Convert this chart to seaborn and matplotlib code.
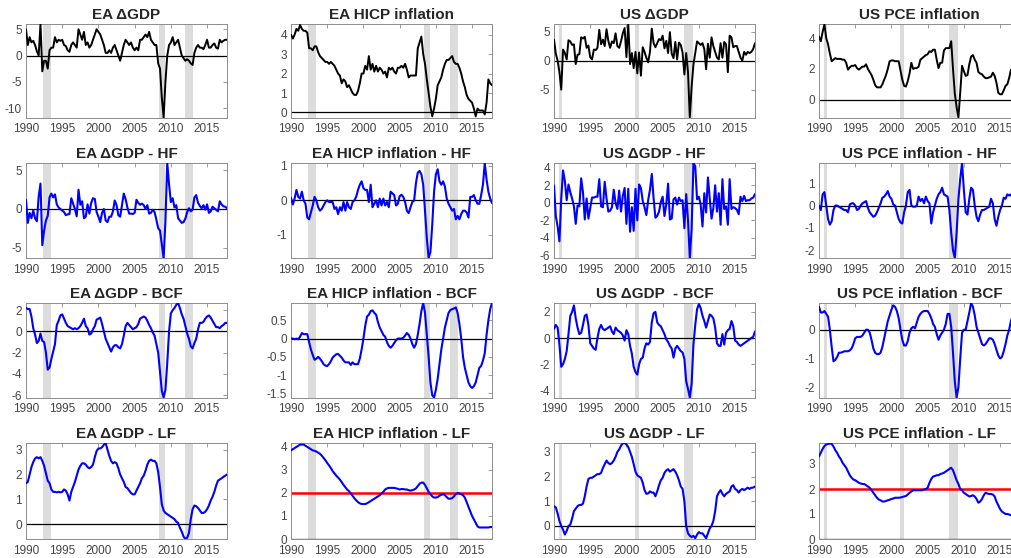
import numpy as np
import seaborn as sns
import matplotlib.pyplot as plt

sns.set_style('white')
plt.rcParams['font.family'] = ['Liberation Sans', 'DejaVu Sans']
plt.rcParams['axes.unicode_minus'] = False

# quarterly dates 1990Q1 .. 2017Q4
quarters = 1990 + np.arange(112) / 4

# recession bands (start, end)
ea_recessions = [(1992.4, 1993.5), (2008.4, 2009.25), (2011.9, 2013.0)]
us_recessions = [(1990.7, 1991.1), (2001.25, 2001.7), (2008.0, 2009.2)]

# ---- raw series (black) ----
ea_gdp = [5.0, 2.0, 3.5, 2.5, 2.8, 2.0, 0.8, 0.0, 6.0, -3.0, -1.0, -1.0,
          -2.5, 1.0, 1.5, 1.5, 3.5, 2.5, 3.0, 2.8, 3.0, 2.0, 1.8, 1.0,
          0.7, 2.0, 2.5, 2.0, 1.5, 5.0, 4.0, 3.0, 4.5, 2.0, 2.5, 1.5,
          2.0, 3.0, 4.0, 5.0, 4.5, 4.0, 3.0, 2.0, 0.5, 0.5, 1.0, 0.5,
          1.5, 2.0, 1.0, 0.0, -1.0, 0.5, 2.0, 3.0, 2.5, 2.0, 2.5, 1.5,
          1.0, 1.5, 1.0, 3.0, 3.0, 3.5, 4.0, 3.5, 4.5, 3.0, 2.5, 2.0,
          2.0, -1.5, -2.5, -8.0, -11.8, -5.0, 0.0, 2.0, 2.5, 3.5, 2.0, 2.5,
          3.0, 1.5, 0.0, -0.5, -1.0, -0.7, -1.0, -1.5, -1.8, 0.5, 1.5, 2.0,
          1.5, 1.5, 1.2, 2.0, 3.0, 1.5, 1.5, 2.0, 2.3, 1.5, 1.3, 3.0,
          2.5, 2.8, 3.0, 3.0]
ea_hicp = [4.0, 3.8, 4.0, 4.3, 4.2, 4.5, 4.3, 4.2, 4.2, 4.1, 3.3, 3.3,
           3.2, 3.4, 3.4, 3.1, 2.9, 2.8, 2.7, 2.6, 2.6, 2.5, 2.6, 2.5,
           2.4, 2.2, 2.0, 1.9, 1.5, 1.7, 1.6, 1.3, 1.4, 1.2, 1.0, 0.9,
           0.9, 1.1, 1.5, 2.0, 2.0, 2.4, 2.2, 2.9, 2.2, 2.5, 2.1, 2.4,
           2.1, 2.3, 2.2, 2.0, 2.1, 1.8, 2.3, 2.2, 2.3, 2.1, 2.0, 2.3,
           2.3, 2.4, 2.3, 2.5, 2.2, 1.8, 1.9, 1.9, 1.9, 1.9, 3.3, 3.6,
           3.9, 3.0, 2.5, 1.7, 1.0, 0.3, -0.2, 0.2, 0.7, 1.4, 1.6, 1.8,
           2.2, 2.5, 2.7, 2.7, 2.8, 2.9, 2.6, 2.5, 2.5, 2.3, 2.0, 1.6,
           1.3, 0.9, 0.7, 0.6, 0.5, 0.2, -0.2, 0.2, 0.1, 0.1, 0.1, -0.1,
           0.5, 1.7, 1.5, 1.4]
us_gdp = [3.6, 1.2, 0.0, -2.0, -5.0, 1.9, 1.3, 0.2, 3.5, 3.3, 2.7, 2.8,
          -0.6, 1.0, 1.1, 4.0, 3.8, 4.1, 2.2, 2.6, 0.6, 0.2, 1.9, 1.8,
          2.2, 5.3, 2.8, 3.6, 2.5, 5.4, 3.4, 2.2, 3.3, 3.0, 4.7, 2.5,
          2.2, 3.3, 4.7, 5.6, 0.6, 6.3, -0.6, 1.3, -1.3, 1.5, -2.2, 1.4,
          -2.6, 2.3, 1.5, 0.5, -0.3, 1.5, 5.5, 3.0, 2.3, 3.0, 3.7, 3.5,
          4.3, 2.1, 3.4, 1.3, 4.9, 1.2, 0.4, 3.2, 0.2, 3.1, 2.7, 1.4,
          -2.4, 1.3, -2.0, -9.8, -4.5, -0.7, 1.3, 3.3, 3.0, 2.7, 3.0, 2.0,
          -1.5, 2.9, 0.5, 4.0, 2.5, 1.5, 0.5, 0.2, 3.0, 0.5, 3.2, 2.8,
          -2.0, 4.3, 4.0, 2.3, 2.5, 2.5, 1.5, 0.5, 0.0, 1.5, 1.0, 1.5,
          1.3, 1.5, 2.0, 3.0]
us_pce = [4.1, 3.8, 4.4, 4.9, 4.0, 3.6, 3.0, 2.5, 2.6, 2.7, 2.65, 2.65,
          2.65, 2.6, 2.6, 2.4, 1.95, 2.1, 2.2, 2.2, 2.25, 2.05, 1.95, 2.05,
          2.15, 2.15, 2.3, 2.0, 1.8, 1.6, 1.3, 0.95, 0.8, 0.8, 0.8, 1.0,
          1.3, 1.6, 2.0, 2.5, 2.55, 2.55, 2.5, 2.5, 2.5, 1.9, 1.3, 0.9,
          0.85, 1.2, 1.7, 2.4, 2.0, 2.05, 2.05, 2.15, 2.6, 2.7, 2.8, 2.9,
          2.95, 3.15, 3.1, 3.25, 3.25, 2.6, 2.05, 2.4, 2.4, 3.2, 3.35, 3.35,
          3.35, 3.8, 2.0, 0.4, -0.5, -1.16, 0.5, 2.2, 1.85, 1.55, 1.6, 2.3,
          2.8, 2.9, 2.6, 2.4, 1.8, 1.7, 1.65, 1.5, 1.4, 1.4, 1.45, 1.5,
          1.75, 1.55, 1.1, 0.45, 0.35, 0.35, 0.6, 0.9, 1.0, 1.4, 1.95, 1.9,
          2.0, 1.6, 1.5, 1.7]

# ---- high frequency ----
ea_gdp_hf = [1.2, -1.8, -0.5, -1.2, -0.2, -1.2, -1.6, 1.6, 3.3, -4.7, -2.8, -1.5,
             -0.9, 1.5, 2.0, 1.5, 1.9, 0.6, 0.2, 0.0, -0.2, -0.4, -0.8, -0.7,
             -0.65, 1.4, 0.7, 0.0, -0.95, 2.5, 0.55, 1.0, -1.2, -1.0, 0.6, -0.6,
             0.8, 1.4, 1.3, -0.4, -1.0, -1.7, -0.5, 0.0, -1.5, -1.7, -1.0, -1.0,
             -0.3, 1.1, 0.5, -0.8, -1.0, 0.5, 2.0, 1.3, 0.2, -0.6, -0.6, -0.65,
             -0.5, 1.2, 0.8, 0.55, 0.7, 0.5, 0.0, 0.5, -0.6, -0.5, -0.1, -0.4,
             -1.4, -2.5, -2.8, -4.6, -6.36, -1.6, 5.97, 3.2, 0.9, 1.4, 0.2, 0.5,
             -1.2, -1.5, -1.8, -1.7, -1.25, -0.4, 0.1, -0.3, -0.1, 1.5, 1.8, 0.8,
             0.4, 0.1, 0.5, -0.1, 0.6, -0.5, -0.3, 0.3, 0.1, -0.1, -0.3, 1.0,
             0.6, 0.35, 0.3, 0.1]
ea_hicp_hf = [0.07, -0.12, 0.05, 0.3, 0.1, 0.05, 0.25, 0.0, -0.1, -0.5, -0.55, -0.35,
              -0.15, 0.1, 0.0, -0.2, -0.3, -0.25, -0.15, -0.05, 0.0, -0.05, -0.05, -0.05,
              -0.25, -0.2, -0.4, -0.2, -0.3, -0.05, -0.3, -0.05, -0.2, -0.25, -0.05, 0.0,
              0.1, 0.3, 0.45, 0.55, 0.35, 0.3, 0.3, -0.05, 0.45, -0.2, -0.1, 0.0,
              -0.2, 0.05, -0.15, 0.05, -0.15, -0.05, -0.2, 0.25, 0.2, 0.15, -0.15, -0.1,
              0.12, 0.16, 0.1, -0.05, -0.3, -0.37, -0.2, -0.05, 0.0, 0.5, 0.8, 0.85,
              0.75, 0.45, -0.3, -1.1, -1.67, -1.5, -0.7, 0.25, 0.75, 0.9, 0.55, 0.45,
              0.55, 0.4, 0.05, -0.1, -0.2, -0.3, -0.25, -0.55, -0.45, -0.55, -0.4, -0.3,
              -0.3, -0.35, -0.5, 0.1, 0.1, 0.15, 0.0, -0.1, -0.1, 0.15, 0.45, 1.08,
              0.6, 0.25, 0.05, -0.08]
us_gdp_hf = [2.0, -1.5, -2.7, -4.4, 0.5, 3.7, 2.5, 0.3, 2.1, 1.2, 0.5, -0.4,
             -2.4, -0.3, -0.4, 2.8, 1.2, -1.9, 0.5, -1.8, -0.6, 0.6, 0.6, 0.7,
             0.7, 2.7, -0.4, -0.5, 2.4, 0.5, -1.0, -0.9, -0.5, 1.5, 0.0, -0.7,
             1.4, -1.0, 0.8, 1.7, -2.4, 1.6, -3.3, -0.5, -3.2, 1.6, -2.0, 2.1,
             1.7, 0.2, -0.5, -1.4, 0.3, 1.5, 3.3, 0.5, -1.7, -1.5, -1.0, 0.1,
             0.7, -1.5, -0.2, 2.2, -1.9, -1.8, 0.4, 0.6, -0.2, 0.6, 0.2, 0.3,
             -2.9, 1.0, -2.0, -6.3, -3.0, 4.5, 4.2, 0.4, 0.7, -0.2, -2.7, 1.1,
             -1.1, 2.9, 0.5, -1.8, -0.6, 2.0, -1.0, 1.1, -2.5, 2.7, -0.7, -0.4,
             -2.5, 2.7, -0.7, -0.5, -0.6, -0.8, -1.3, 0.7, 0.2, 0.8, 0.2, 0.3,
             0.3, 0.5, 0.6, 1.0]
us_pce_hf = [0.0, -0.2, 0.5, 0.6, 0.0, -0.6, -0.85, -0.7, -0.2, 0.0, 0.0, -0.05,
             -0.1, -0.15, -0.2, -0.2, -0.3, 0.05, 0.1, 0.1, 0.0, -0.2, -0.15, 0.0,
             0.1, 0.15, 0.2, -0.1, -0.3, -0.4, -0.5, -0.45, -0.3, -0.1, 0.1, 0.35,
             0.4, 0.5, 0.65, 0.4, 0.3, 0.05, 0.0, -0.3, -0.6, -0.75, -0.8, -0.3,
             0.0, 0.6, 0.7, 0.0, -0.05, -0.05, 0.0, 0.4, 0.2, 0.3, 0.1, 0.4,
             0.2, 0.1, -0.8, -0.3, 0.0, 0.3, 0.5, 0.6, 0.8, 0.5, 0.45, 0.4,
             -0.2, -1.2, -2.0, -2.34, -1.2, 0.3, 1.2, 1.9, 0.7, -0.3, -0.4, 0.3,
             0.8, 0.7, 0.0, -0.5, -0.7, -0.4, -0.2, -0.2, -0.15, -0.1, -0.05, 0.3,
             0.1, -0.6, -0.9, -0.5, -0.2, 0.0, 0.35, 0.3, 0.5, 0.45, 0.5, 0.3,
             0.4, 0.1, 0.0, 0.1]

# ---- business cycle frequency ----
ea_gdp_bcf = [2.2, 2.1, 2.1, 1.4, 0.3, -0.3, -1.1, -0.9, -0.2, -0.9, -1.0, -2.0,
              -3.6, -3.4, -2.6, -1.9, -1.2, 0.6, 1.0, 1.5, 1.6, 1.2, 0.8, 0.5,
              0.4, 0.3, 0.2, 0.3, 0.2, 0.3, 0.5, 0.8, 1.2, 0.5, 0.3, -0.3,
              -0.2, 0.2, 0.5, 1.1, 1.2, 1.3, 0.7, 0.0, -0.7, -1.1, -1.5, -1.9,
              -1.5, -1.3, -1.3, -1.5, -1.6, -1.2, -0.4, 0.5, 0.8, 0.6, 0.4, 0.2,
              0.3, 0.4, 0.7, 1.2, 1.3, 1.4, 1.3, 1.0, 0.6, 0.3, -0.1, -0.4,
              -1.2, -2.0, -3.8, -5.6, -6.22, -5.5, -3.0, 0.0, 1.7, 2.0, 2.2, 2.5,
              2.67, 2.2, 1.6, 1.2, 0.5, -0.2, -0.7, -1.4, -1.6, -1.1, -0.7, 0.2,
              0.8, 0.8, 0.9, 1.2, 1.4, 1.5, 1.3, 1.0, 0.7, 0.4, 0.4, 0.3,
              0.5, 0.6, 0.8, 0.8]
ea_hicp_bcf = [0.0, 0.0, -0.02, 0.0, -0.02, 0.05, 0.15, 0.12, 0.12, 0.12, -0.1, -0.3,
               -0.45, -0.58, -0.55, -0.5, -0.55, -0.62, -0.7, -0.74, -0.75, -0.7, -0.62, -0.52,
               -0.47, -0.43, -0.42, -0.47, -0.52, -0.6, -0.65, -0.65, -0.65, -0.72, -0.65, -0.7,
               -0.7, -0.7, -0.55, -0.3, 0.0, 0.35, 0.6, 0.65, 0.75, 0.77, 0.7, 0.65,
               0.45, 0.3, 0.2, 0.1, 0.05, -0.1, -0.2, -0.25, -0.2, -0.12, -0.05, 0.0,
               0.0, 0.0, 0.02, 0.08, 0.15, 0.1, 0.0, -0.15, -0.25, -0.15, 0.1, 0.4,
               0.75, 0.97, 0.7, 0.1, -0.5, -1.2, -1.55, -1.61, -1.4, -1.1, -0.7, -0.3,
               0.0, 0.3, 0.5, 0.7, 0.78, 0.8, 0.82, 0.85, 0.7, 0.4, 0.0, -0.5,
               -0.8, -1.0, -1.2, -1.3, -1.35, -1.3, -1.2, -1.0, -0.8, -0.75, -0.6, -0.4,
               0.1, 0.5, 0.8, 0.97]
us_gdp_bcf = [0.7, 1.0, 0.8, -0.5, -2.2, -2.0, -1.6, -1.0, 0.3, 1.7, 2.0, 2.5,
              1.5, 0.8, 0.3, 0.4, 1.0, 1.7, 1.8, 1.0, -0.4, -0.6, -0.8, -0.9,
              0.0, 0.7, 1.0, 0.7, 0.6, 0.7, 0.8, 0.9, 0.5, 0.3, 0.8, 0.6,
              0.5, 0.4, 0.2, -0.2, 0.6, 0.3, -0.6, -1.2, -2.2, -2.6, -2.8, -2.0,
              -1.6, -1.5, -0.8, -0.4, -0.5, -0.3, 1.2, 1.9, 2.0, 1.2, 1.0, 0.9,
              0.6, 0.3, -0.1, -0.3, -0.6, -0.8, -1.5, -0.8, -0.6, -0.8, -1.0, -1.1,
              -1.6, -3.3, -3.9, -4.55, -3.5, -0.5, 1.0, 2.2, 2.6, 2.3, 1.7, 1.3,
              0.8, 1.3, 1.8, 1.7, 1.5, 0.8, -0.4, -0.6, -0.6, 0.3, -0.5, 0.4,
              0.6, 0.7, 1.3, 0.9, -0.2, -0.3, -0.5, -0.6, -0.5, -0.4, -0.3, -0.2,
              -0.1, 0.0, 0.1, 0.5]
us_pce_bcf = [0.8, 0.6, 0.6, 0.65, 0.55, 0.45, 0.0, -0.6, -1.1, -1.05, -0.95, -0.8,
              -0.8, -0.78, -0.75, -0.75, -0.75, -0.72, -0.65, -0.5, -0.3, -0.25, -0.25, -0.25,
              -0.2, -0.1, 0.0, 0.0, -0.1, -0.35, -0.65, -0.8, -0.85, -0.85, -0.8, -0.6,
              -0.3, 0.0, 0.3, 0.5, 0.7, 0.85, 0.8, 0.65, 0.4, 0.0, -0.35, -0.55,
              -0.55, -0.4, -0.1, 0.05, 0.1, 0.05, 0.25, 0.45, 0.55, 0.62, 0.65, 0.65,
              0.65, 0.55, 0.4, 0.2, 0.1, -0.15, -0.35, -0.2, -0.1, 0.0, 0.2, 0.55,
              0.55, 0.1, -0.8, -1.8, -2.36, -2.0, -1.0, -0.1, 0.0, 0.0, 0.3, 0.6,
              0.93, 0.8, 0.5, 0.1, -0.1, -0.3, -0.5, -0.55, -0.5, -0.4, -0.3, -0.3,
              -0.35, -0.5, -0.7, -0.9, -1.0, -0.95, -0.75, -0.5, -0.2, 0.0, 0.3, 0.5,
              0.6, 0.6, 0.6, 0.7]

# ---- low frequency ----
ea_gdp_lf = [1.65, 1.7, 2.0, 2.3, 2.5, 2.65, 2.7, 2.65, 2.7, 2.55, 2.35, 2.05,
             1.75, 1.65, 1.4, 1.3, 1.3, 1.28, 1.3, 1.28, 1.3, 1.4, 1.35, 1.2,
             0.95, 1.3, 1.5, 1.7, 1.95, 2.2, 2.35, 2.45, 2.45, 2.4, 2.3, 2.25,
             2.3, 2.4, 2.7, 2.95, 3.05, 3.05, 3.1, 3.2, 3.27, 3.0, 2.75, 2.55,
             2.45, 2.5, 2.45, 2.25, 2.0, 1.85, 1.7, 1.5, 1.45, 1.35, 1.25, 1.2,
             1.2, 1.35, 1.5, 1.65, 1.85, 1.95, 2.15, 2.4, 2.55, 2.6, 2.55, 2.55,
             2.45, 2.1, 1.5, 0.8, 0.55, 0.45, 0.4, 0.35, 0.3, 0.25, 0.2, 0.1,
             0.05, -0.15, -0.3, -0.5, -0.6, -0.55, -0.35, 0.2, 0.6, 0.75, 0.72, 0.65,
             0.55, 0.45, 0.45, 0.5, 0.6, 0.75, 0.95, 1.1, 1.3, 1.55, 1.75, 1.8,
             1.85, 1.9, 1.95, 2.0]
ea_hicp_lf = [3.85, 3.9, 3.95, 4.0, 4.05, 4.1, 4.1, 4.1, 4.05, 4.0, 3.95, 3.9,
              3.85, 3.83, 3.8, 3.75, 3.7, 3.62, 3.52, 3.42, 3.3, 3.2, 3.08, 2.95,
              2.85, 2.75, 2.67, 2.58, 2.47, 2.35, 2.25, 2.15, 2.08, 1.98, 1.88, 1.77,
              1.68, 1.6, 1.55, 1.52, 1.52, 1.52, 1.55, 1.6, 1.65, 1.7, 1.75, 1.8,
              1.85, 1.9, 1.98, 2.05, 2.15, 2.2, 2.22, 2.22, 2.22, 2.22, 2.2, 2.18,
              2.15, 2.17, 2.17, 2.15, 2.15, 2.12, 2.1, 2.12, 2.15, 2.2, 2.3, 2.4,
              2.45, 2.45, 2.35, 2.2, 2.05, 1.95, 1.85, 1.8, 1.8, 1.82, 1.88, 1.92,
              1.95, 1.9, 1.82, 1.75, 1.75, 1.78, 1.85, 1.95, 2.0, 1.98, 1.95, 1.9,
              1.8, 1.6, 1.4, 1.2, 1.0, 0.85, 0.7, 0.55, 0.5, 0.5, 0.5, 0.5,
              0.5, 0.5, 0.52, 0.52]
us_gdp_lf = [0.8, 0.75, 0.5, 0.2, 0.0, -0.15, -0.35, -0.2, 0.0, 0.05, 0.3, 0.6,
             0.7, 0.8, 0.85, 0.85, 0.9, 1.2, 1.6, 1.9, 1.95, 1.95, 2.0, 2.05,
             2.1, 2.1, 2.15, 2.35, 2.5, 2.65, 2.55, 2.5, 2.55, 2.65, 2.8, 3.0,
             3.1, 3.25, 3.35, 3.36, 3.3, 3.2, 3.0, 2.8, 2.5, 2.2, 2.05, 2.0,
             1.95, 1.75, 1.45, 1.3, 1.32, 1.4, 1.35, 1.35, 1.2, 1.4, 1.65, 1.85,
             1.95, 2.15, 2.25, 2.3, 2.2, 2.25, 2.3, 2.2, 2.05, 1.85, 1.6, 1.5,
             1.0, 0.0, -0.3, -0.4, -0.45, -0.4, -0.5, -0.35, -0.25, -0.3, -0.3, -0.4,
             -0.5, -0.3, -0.1, 0.0, 0.2, 0.6, 1.2, 1.35, 1.45, 1.3, 1.2, 1.3,
             1.35, 1.4, 1.6, 1.65, 1.5, 1.45, 1.35, 1.45, 1.5, 1.45, 1.5, 1.55,
             1.5, 1.55, 1.55, 1.6]
us_pce_lf = [3.3, 3.45, 3.6, 3.72, 3.78, 3.8, 3.82, 3.8, 3.7, 3.55, 3.45, 3.3,
             3.2, 3.05, 2.95, 2.85, 2.7, 2.55, 2.45, 2.38, 2.35, 2.3, 2.25, 2.22,
             2.2, 2.2, 2.15, 2.1, 2.05, 1.95, 1.85, 1.75, 1.65, 1.58, 1.55, 1.5,
             1.5, 1.52, 1.55, 1.57, 1.6, 1.62, 1.65, 1.65, 1.65, 1.66, 1.68, 1.7,
             1.72, 1.78, 1.85, 1.9, 1.95, 1.95, 1.95, 1.95, 1.95, 1.95, 1.98, 2.0,
             2.05, 2.25, 2.4, 2.5, 2.52, 2.55, 2.55, 2.6, 2.62, 2.65, 2.7, 2.75,
             2.8, 2.85, 2.75, 2.55, 2.35, 2.2, 2.0, 1.95, 1.85, 1.8, 1.75, 1.7,
             1.72, 1.75, 1.7, 1.6, 1.45, 1.5, 1.6, 1.75, 1.85, 1.82, 1.8, 1.8,
             1.78, 1.7, 1.5, 1.35, 1.2, 1.1, 1.05, 1.0, 1.0, 0.98, 0.95, 0.95,
             0.95, 0.95, 0.95, 0.95]

# title, series, color, ylim, yticks, recessions, inflation target
panels = [
    [('EA ΔGDP', ea_gdp, 'k', (-11.8, 6.0), [-10, -5, 0, 5], ea_recessions, None),
     ('EA HICP inflation', ea_hicp, 'k', (-0.26, 4.55), [0, 1, 2, 3, 4], ea_recessions, None),
     ('US ΔGDP', us_gdp, 'k', (-9.8, 6.3), [-5, 0, 5], us_recessions, None),
     ('US PCE inflation', us_pce, 'k', (-1.16, 4.92), [0, 2, 4], us_recessions, None)],
    [('EA ΔGDP - HF', ea_gdp_hf, 'b', (-6.36, 5.97), [-5, 0, 5], ea_recessions, None),
     ('EA HICP inflation - HF', ea_hicp_hf, 'b', (-1.67, 1.08), [-1, 0, 1], ea_recessions, None),
     ('US ΔGDP - HF', us_gdp_hf, 'b', (-6.3, 4.55), [-6, -4, -2, 0, 2, 4], us_recessions, None),
     ('US PCE inflation - HF', us_pce_hf, 'b', (-2.34, 1.9), [-2, -1, 0, 1], us_recessions, None)],
    [('EA ΔGDP - BCF', ea_gdp_bcf, 'b', (-6.22, 2.67), [-6, -4, -2, 0, 2], ea_recessions, None),
     ('EA HICP inflation - BCF', ea_hicp_bcf, 'b', (-1.61, 0.97), [-1.5, -1, -0.5, 0, 0.5], ea_recessions, None),
     ('US ΔGDP  - BCF', us_gdp_bcf, 'b', (-4.55, 2.68), [-4, -2, 0, 2], us_recessions, None),
     ('US PCE inflation - BCF', us_pce_bcf, 'b', (-2.36, 0.93), [-2, -1, 0], us_recessions, None)],
    [('EA ΔGDP - LF', ea_gdp_lf, 'b', (-0.6, 3.27), [0, 1, 2, 3], ea_recessions, None),
     ('EA HICP inflation - LF', ea_hicp_lf, 'b', (0, 4.17), [0, 1, 2, 3, 4], ea_recessions, 2),
     ('US ΔGDP - LF', us_gdp_lf, 'b', (-0.53, 3.36), [0, 1, 2, 3], us_recessions, None),
     ('US PCE inflation - LF', us_pce_lf, 'b', (0, 3.84), [0, 1, 2, 3], us_recessions, 2)],
]

W, H = 1012, 558
col_left = [26, 291, 554, 819]
col_width = 201
row_top = [24, 163, 303, 443]
row_height = [93.5, 95, 94.5, 96]

fig = plt.figure(figsize=(W / 100, H / 100), dpi=100)
frame_color = '#8c8c8c'

for r, row in enumerate(panels):
    for c, (title, values, color, ylim, yticks, recs, target) in enumerate(row):
        ax = fig.add_axes([col_left[c] / W, 1 - (row_top[r] + row_height[r]) / H,
                           col_width / W, row_height[r] / H])
        for a, b in recs:
            ax.axvspan(a, b, color='#dcdcdc', lw=0, zorder=0)
        ax.axhline(0, color='k', lw=0.9, zorder=1)
        if target is not None:
            ax.axhline(target, color='#ff0000', lw=1.8, zorder=2)
        lw = 1.4 if color == 'k' else 1.5
        sns.lineplot(x=quarters, y=values, ax=ax, color='#000000' if color == 'k' else '#0000ff',
                     linewidth=lw, zorder=3)
        ax.set_xlim(1990, 2017.75)
        ax.set_ylim(*ylim)
        ax.set_xticks([1990, 1995, 2000, 2005, 2010, 2015])
        ax.set_yticks(yticks)
        ax.set_yticklabels([('%g' % t) for t in yticks])
        ax.set_xlabel('')
        ax.set_ylabel('')
        ax.tick_params(direction='in', length=3, width=0.6, color=frame_color,
                       labelcolor='#444444', labelsize=8.5, top=True, right=True, pad=3)
        ax.tick_params(axis='x', pad=4)
        for sp in ax.spines.values():
            sp.set_color(frame_color)
            sp.set_linewidth(0.7)
        ax.set_title(title, fontsize=11, fontweight='bold', pad=3.5)

fig.savefig('out.png', dpi=100)
